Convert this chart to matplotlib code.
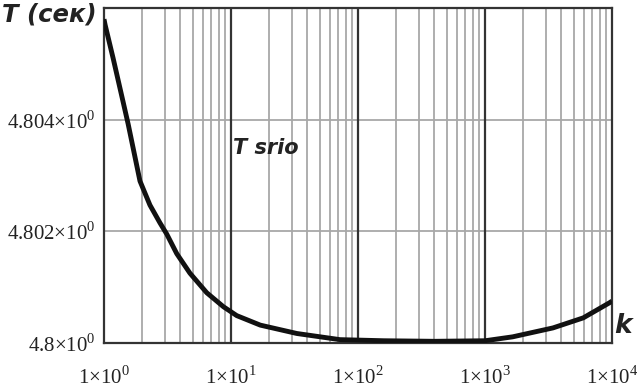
import numpy as np
import matplotlib
matplotlib.use('Agg')
import matplotlib.pyplot as plt
from matplotlib.ticker import FixedLocator, NullFormatter

plt.rcParams['mathtext.fontset'] = 'custom'
plt.rcParams['mathtext.rm'] = 'Liberation Serif'
plt.rcParams['font.family'] = 'Liberation Serif'

# ── данные ────────────────────────────────────────────────────────────────
k_vals = [1.0, 1.02, 1.18, 1.42, 1.55, 1.92, 2.30, 2.76, 3.12, 3.74, 4.75,
          6.44, 8.71, 11.1, 17.0, 33.0, 72.0, 160, 400, 1000, 1650, 3430,
          5940, 9550, 10000]
T_vals = [4.80580, 4.80570, 4.80510, 4.80430, 4.80392, 4.80290, 4.80247,
          4.80215, 4.80195, 4.80160, 4.80125, 4.80090, 4.80065, 4.80049,
          4.80032, 4.80017, 4.80006, 4.80004, 4.80003, 4.80004, 4.80011,
          4.80027, 4.80045, 4.80072, 4.80075]

x_ticks = [1, 10, 100, 1000, 10000]
x_labels = [r'$1{\times}10^{0}$', r'$1{\times}10^{1}$', r'$1{\times}10^{2}$',
            r'$1{\times}10^{3}$', r'$1{\times}10^{4}$']
y_ticks = [4.8, 4.802, 4.804]
y_labels = [r'$4.8{\times}10^{0}$', r'$4.802{\times}10^{0}$', r'$4.804{\times}10^{0}$']

fig = plt.figure(figsize=(6.44, 3.91), dpi=100)
ax = fig.add_axes([0.1615, 0.1228, 0.7888, 0.8567])

ax.set_xscale('log')
ax.set_xlim(1, 10000)
ax.set_ylim(4.8, 4.806)

# сетка: декады тёмные, промежуточные серые
minor = [m * 10 ** d for d in range(4) for m in range(2, 10)]
for xm in minor:
    ax.axvline(xm, color='#a8a8a8', lw=1.3, zorder=1)
for xd in x_ticks[1:-1]:
    ax.axvline(xd, color='#333333', lw=1.6, zorder=2)
for yv in y_ticks[1:]:
    ax.axhline(yv, color='#a8a8a8', lw=1.3, zorder=1)

ax.plot(k_vals, T_vals, color='#111111', lw=3.5, zorder=3,
        solid_joinstyle='round', solid_capstyle='butt')

ax.xaxis.set_major_locator(FixedLocator(x_ticks))
ax.xaxis.set_minor_locator(FixedLocator(minor))
ax.xaxis.set_minor_formatter(NullFormatter())
ax.set_xticklabels(x_labels, fontsize=15)
ax.set_yticks(y_ticks)
ax.set_yticklabels(y_labels, fontsize=15)
ax.tick_params(which='both', length=0, pad=6, colors='#222222')
ax.tick_params(axis='x', pad=17)

for s in ax.spines.values():
    s.set_color('#333333')
    s.set_linewidth(1.6)

fig.text(0.003, 0.945, 'T (сек)', fontsize=17.5, fontweight='bold',
         fontstyle='italic', family='DejaVu Sans', color='#222222')
fig.text(233 / 644, 1 - 148 / 391, 'T srio',
         fontsize=15, fontweight='bold', fontstyle='italic',
         family='DejaVu Sans', color='#222222', va='center')
fig.text(614 / 644, 1 - 326 / 391, 'k', fontsize=19, fontweight='bold',
         fontstyle='italic', family='DejaVu Sans', color='#222222', va='center')

fig.savefig('out.png', dpi=100)
